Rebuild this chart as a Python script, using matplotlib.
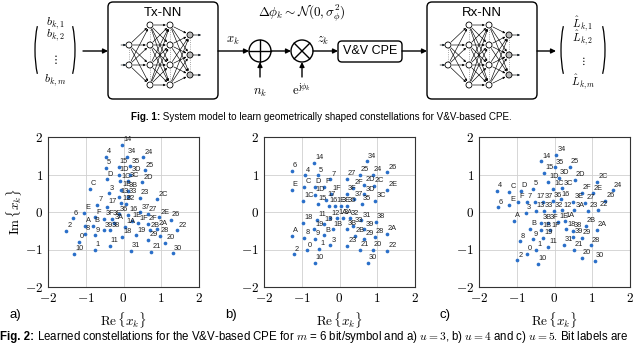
import matplotlib
matplotlib.use('Agg')
import matplotlib.pyplot as plt
from matplotlib.patches import FancyBboxPatch, Circle, Arc

plt.rcParams['mathtext.fontset'] = 'cm'
plt.rcParams['font.family'] = ['Liberation Sans', 'DejaVu Sans']

# a) u = 3
labels_a = ['14', '4', '34', '24', '5', '15', '35', '25', 'D', '1D', '3D', '1C', '3C', '2D',
            'C', '3', '1B', '3B', '13', '33', '12', '32', '23', '2C', '7', '17',
            'E', '6', 'F', '36', '3F', '3E', '3A', '16', '1E', '37', '27', '2E', '26',
            '1F', '2F', '1A', 'A', 'B', '2', '8', '9', '39', '38', '18', '19',
            '2B', '2A', '28', '22', '29', '20', '0', '1', '11', '31', '21', '10', '30']
re_a = [-0.03, -0.46, 0.08, 0.52, -0.47, -0.13, 0.18, 0.56, -0.45, -0.13, 0.18, -0.09, 0.13, 0.50,
        -0.89, -0.39, -0.06, 0.11, -0.11, 0.11, -0.06, 0.06, 0.43, 0.90, -0.70, -0.44,
        -1.05, -1.34, -0.76, -0.13, -0.51, -0.31, -0.26, 0.13, 0.22, 0.44, 0.64, 0.95, 1.25,
        0.39, 0.64, 0.05, -1.02, -0.81, -1.51, -1.02, -0.76, -0.52, -0.35, -0.04, 0.34,
        0.69, 0.90, 0.96, 1.42, 0.66, 1.11, -1.18, -0.76, -0.37, 0.19, 0.73, -1.30, 1.31]
im_a = [1.79, 1.48, 1.48, 1.46, 1.17, 1.20, 1.22, 1.11, 0.875, 0.99, 0.99, 0.82, 0.84, 0.79,
        0.625, 0.50, 0.59, 0.57, 0.41, 0.40, 0.23, 0.21, 0.375, 0.34, 0.19, 0.14,
        -0.03, -0.17, -0.14, -0.06, -0.18, -0.18, -0.29, -0.08, -0.23, -0.01, -0.06, -0.14, -0.20,
        -0.30, -0.31, -0.39, -0.36, -0.375, -0.51, -0.59, -0.625, -0.49, -0.49, -0.67, -0.625,
        -0.49, -0.45, -0.64, -0.49, -0.74, -0.82, -0.79, -1.0, -0.91, -1.03, -1.06, -1.11, -1.10]

# b) u = 4
labels_b = ['34', '14', '6', '26', '25', '24', '4', '5', '7', '27', '2D', '2C', '2F',
            'C', 'D', 'F', 'E', '2E', '1D', '1F', '3F', '3D', '17', '37', '3C', '1C',
            '15', '16', '1E', '3E', '36', '35', '11', '13', '12', '1A', '3A', '32', '31', '38',
            '18', '19', '1B', '3B', '33', '39', 'A', '8', '9', 'B', '2B', '29', '28', '2A',
            '3', '23', '21', '20', '22', '2', '0', '1', '10', '30']
re_b = [0.73, -0.68, -1.26, 1.26, 0.53, 0.88, -0.91, -0.58, -0.24, 0.19, 0.65, 0.91, 0.37,
        -0.94, -0.66, -0.40, -1.27, 1.26, -0.66, -0.22, 0.20, 0.66, -0.36, 0.38, 0.95, -0.96,
        -0.58, -0.29, -0.11, 0.04, 0.20, 0.59, -0.59, -0.42, -0.24, -0.06, 0.09, 0.27, 0.58, 0.96,
        -0.96, -0.68, -0.18, 0.20, 0.37, 0.66, -1.27, -0.93, -0.65, -0.40, 0.40, 0.65, 0.93, 1.25,
        -0.24, 0.20, 0.53, 0.88, 1.26, -1.21, -0.87, -0.53, -0.66, 0.75]
im_b = [1.35, 1.31, 1.10, 1.06, 1.0, 1.0, 0.98, 0.98, 0.875, 0.89, 0.72, 0.70, 0.65,
        0.68, 0.68, 0.67, 0.60, 0.60, 0.46, 0.49, 0.49, 0.47, 0.33, 0.34, 0.30, 0.29,
        0.21, 0.17, 0.17, 0.17, 0.17, 0.22, -0.20, -0.33, -0.17, -0.15, -0.15, -0.17, -0.22, -0.26,
        -0.29, -0.46, -0.46, -0.45, -0.36, -0.46, -0.64, -0.69, -0.71, -0.625, -0.63, -0.71, -0.67, -0.59,
        -0.89, -0.91, -1.01, -1.01, -1.04, -1.13, -1.02, -0.99, -1.36, -1.36]

# c) u = 5
labels_c = ['34', '14', '35', '25', '15', '3D', '1D', '2D', '2C', '3C', '1C',
            '4', 'C', 'D', '5', '24', '2F', '2E', '26',
            '6', 'E', 'F', '7', '17', '37', '36', '16', '3E', '27',
            '3', '13', '33', '32', '12', '3A', '23', '22',
            'A', '3B', '3F', '1E', '1A', '2B', '2A', 'B', '1B', '1F', '18', '38',
            '19', '39', '29', '8', '9', '28', '11', '31', '0', '1', '21', '2', '20', '30', '10']
re_c = [0.05, -0.35, 0.01, 0.41, -0.28, 0.12, -0.17, 0.54, 1.13, 0.21, -0.04,
        -1.52, -1.20, -0.90, -0.57, 1.54, 0.72, 1.01, 1.34,
        -1.50, -1.20, -0.96, -0.73, -0.52, -0.30, -0.05, 0.16, 0.50, 0.81,
        -0.76, -0.50, -0.28, -0.02, 0.21, 0.52, 0.89, 1.16,
        -1.08, -0.35, -0.17, 0.10, 0.27, 0.83, 1.12, -0.64, -0.35, -0.11, 0.30, 0.48,
        -0.30, 0.50, 0.72, -0.92, -0.58, 0.96, -0.17, 0.25, -0.74, -0.48, 0.51, -0.99, 0.72, 1.07, -0.45]
im_c = [1.53, 1.35, 1.19, 1.21, 1.05, 0.92, 0.80, 0.85, 0.81, 0.63, 0.625,
        0.56, 0.545, 0.56, 0.625, 0.58, 0.52, 0.50, 0.29,
        0.125, 0.19, 0.27, 0.27, 0.27, 0.27, 0.29, 0.34, 0.28, 0.25,
        -0.03, 0.03, 0.03, 0.03, 0.045, 0.045, 0.03, 0.05,
        -0.24, -0.29, -0.29, -0.26, -0.24, -0.375, -0.48, -0.44, -0.49, -0.49, -0.46, -0.50,
        -0.69, -0.67, -0.69, -0.78, -0.73, -0.89, -0.93, -0.87, -1.12, -1.0, -1.01, -1.29, -1.22, -1.31, -1.38]

ticks = [-2, -1, 0, 1, 2]
dot_color = '#2a6fc9'

fig = plt.figure(figsize=(6.4, 3.44), dpi=100)

# ---------- system model (pixel coordinates) ----------
d = fig.add_axes([0, 0, 1, 1])
d.set_xlim(0, 640)
d.set_ylim(344, 0)
d.axis('off')


def arrow(x1, y1, x2, y2, lw=1.0, ms=7):
    d.annotate('', xy=(x2, y2), xytext=(x1, y1),
               arrowprops=dict(arrowstyle='-|>', lw=lw, color='black',
                               mutation_scale=ms, shrinkA=0, shrinkB=0))


def paren_vector(xl, xr, entries, ys, fs):
    d.add_patch(Arc((xl + 12, 50), 24, 80, theta1=112, theta2=248, lw=0.9))
    d.add_patch(Arc((xr - 12, 50), 24, 80, theta1=-68, theta2=68, lw=0.9))
    xc = (xl + xr) / 2
    for y, s in zip(ys, entries):
        d.text(xc, y, s, ha='center', va='center', fontsize=fs)


def draw_nn(x0, name):
    d.add_patch(FancyBboxPatch((x0, 2), 110, 97, boxstyle='round,pad=0,rounding_size=5',
                               lw=1.0, ec='black', fc='white'))
    d.text(x0 + 55, 13, name, ha='center', va='center', fontsize=9.5)
    layers = [(x0 + 21, [45, 65]), (x0 + 42, [25, 45, 65, 85]),
              (x0 + 62, [25, 45, 65, 85]), (x0 + 82, [35, 55, 75])]
    r = 3.0
    for (xa, ya), (xb, yb) in zip(layers[:-1], layers[1:]):
        for y1 in ya:
            for y2 in yb:
                d.annotate('', xy=(xb, y2), xytext=(xa, y1),
                           arrowprops=dict(arrowstyle='-|>', lw=0.45, color='black',
                                           mutation_scale=3, shrinkA=r, shrinkB=r))
    for xl, ys in layers:
        d.plot([xl, xl], [ys[0], ys[-1]], ls=':', lw=0.6, color='#888888', zorder=1)
    for i, (xl, ys) in enumerate(layers):
        fc = '#bbbbbb' if i == 3 else 'white'
        for y in ys:
            d.add_patch(Circle((xl, y), r, fc=fc, ec='black', lw=0.6, zorder=3))
    for y in layers[0][1]:
        d.annotate('', xy=(x0 + 21 - r, y), xytext=(x0 + 13, y),
                   arrowprops=dict(arrowstyle='-|>', lw=0.45, mutation_scale=3,
                                   shrinkA=0, shrinkB=0))
    for y in layers[3][1]:
        d.annotate('', xy=(x0 + 93, y), xytext=(x0 + 82 + r, y),
                   arrowprops=dict(arrowstyle='-|>', lw=0.45, mutation_scale=3,
                                   shrinkA=0, shrinkB=0))


paren_vector(35, 75, [r'$b_{k,1}$', r'$b_{k,2}$', r'$\vdots$', r'$b_{k,m}$'],
             [23, 35, 59, 80], 8.5)
arrow(83, 51, 108, 51)
draw_nn(108, 'Tx-NN')
arrow(218, 51, 249, 51)
d.text(233, 41, r'$x_k$', ha='center', va='center', fontsize=9)

# adder and multiplier
d.add_patch(Circle((260, 51), 11, fc='white', ec='black', lw=1.0))
d.plot([249, 271], [51, 51], color='black', lw=1.0)
d.plot([260, 260], [40, 62], color='black', lw=1.0)
arrow(271, 51, 291, 51)
d.add_patch(Circle((302, 51), 11, fc='white', ec='black', lw=1.0))
d.plot([294.2, 309.8], [43.2, 58.8], color='black', lw=1.0)
d.plot([294.2, 309.8], [58.8, 43.2], color='black', lw=1.0)
arrow(260, 77, 260, 62)
arrow(302, 77, 302, 62)
d.text(260, 93, r'$n_k$', ha='center', va='center', fontsize=9)
d.text(302, 90, r'$\mathrm{e}^{\mathrm{j}\phi_k}$', ha='center', va='center', fontsize=9)
d.text(302, 13, r'$\Delta\phi_k \sim \mathcal{N}(0,\sigma_\phi^2)$', ha='center', va='center',
       fontsize=9.5)

arrow(313, 51, 338, 51)
d.text(323, 41, r'$z_k$', ha='center', va='center', fontsize=9)
d.add_patch(FancyBboxPatch((338, 41), 64, 21, boxstyle='round,pad=0,rounding_size=4',
                           lw=1.0, ec='black', fc='white'))
d.text(370, 51.5, 'V&V CPE', ha='center', va='center', fontsize=9)
arrow(402, 51, 427, 51)
draw_nn(427, 'Rx-NN')
arrow(537, 51, 556, 51)
paren_vector(561, 605, [r'$\hat{L}_{k,1}$', r'$\hat{L}_{k,2}$', r'$\vdots$', r'$\hat{L}_{k,m}$'],
             [24, 38, 61, 82], 8)

# captions
t1 = d.text(131, 117, 'Fig. 1:', fontsize=7.1, fontweight='bold', va='center', ha='left')
d.annotate(' System model to learn geometrically shaped constellations for V&V-based CPE.',
           xy=(1, 0.5), xycoords=t1, va='center', ha='left', fontsize=7.1)
t2 = d.text(0, 337, 'Fig. 2:', fontsize=8.3, fontweight='bold', va='center', ha='left')
d.annotate(r' Learned constellations for the V&V-based CPE for $m$ = 6 bit/symbol and a) $u=3$, '
           r'b) $u=4$ and c) $u=5$. Bit labels are',
           xy=(1, 0.5), xycoords=t2, va='center', ha='left', fontsize=8.3)

# ---------- constellations ----------
panels = [(48, labels_a, re_a, im_a, 'a)'),
          (264, labels_b, re_b, im_b, 'b)'),
          (479, labels_c, re_c, im_c, 'c)')]
for i, (left, labs, xs, ys, tag) in enumerate(panels):
    ax = fig.add_axes([left / 640, 1 - 287 / 344, 151 / 640, 150 / 344])
    ax.set_xlim(-2, 2)
    ax.set_ylim(-2, 2)
    ax.set_xticks(ticks)
    ax.set_yticks(ticks)
    ax.set_xticklabels([f'${t}$' for t in ticks])
    ax.set_yticklabels([f'${t}$' for t in ticks])
    ax.tick_params(length=0, labelsize=9.5, pad=3.5)
    ax.grid(True, color='#d0d0d0', lw=0.6)
    ax.set_axisbelow(True)
    for sp in ax.spines.values():
        sp.set_linewidth(0.8)
        sp.set_color('#333333')
    ax.scatter(xs, ys, s=7, color=dot_color, zorder=3, linewidths=0)
    for lab, x, y in zip(labs, xs, ys):
        ax.annotate(lab, (x, y), xytext=(0.8, 1.2), textcoords='offset points',
                    fontsize=5.3, ha='left', va='bottom', color='#222222')
    ax.set_xlabel(r'$\mathrm{Re}\,\{x_k\}$', fontsize=9.5, labelpad=4)
    if i == 0:
        ax.set_ylabel(r'$\mathrm{Im}\,\{x_k\}$', fontsize=9.5, labelpad=1)
    fig.text((left - 39) / 640, 1 - 315 / 344, tag, fontsize=9.5, va='center', ha='left')

fig.savefig('out.png', dpi=100)
